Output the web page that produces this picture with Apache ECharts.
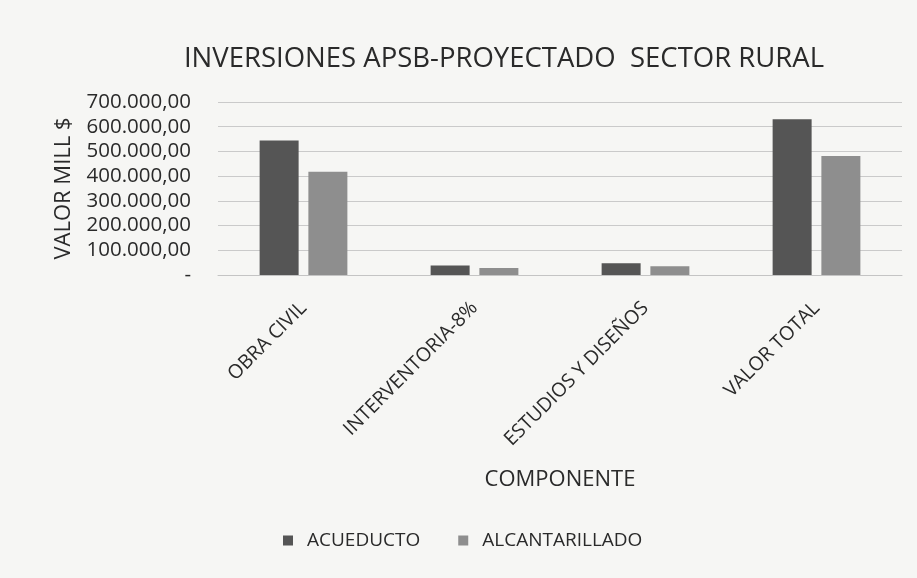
<!DOCTYPE html>
<html>
<head>
<meta charset="utf-8">
<style>
  html, body { margin: 0; padding: 0; background: #f6f6f4; }
  #chart { width: 917px; height: 578px; }
</style>
<script src="https://cdn.jsdelivr.net/npm/echarts@6/dist/echarts.min.js"></script>
</head>
<body>
<div id="chart"></div>
<script>
// componentes (eje x)
var componentes = ["OBRA CIVIL", "INTERVENTORIA-8%", "ESTUDIOS Y DISEÑOS", "VALOR TOTAL"];
// valores en millones de pesos
var acueducto = [544000, 38000, 48000, 630000];
var alcantarillado = [418000, 28000, 35000, 482000];
var series = ["ACUEDUCTO", "ALCANTARILLADO"];

var fontFam = "'Open Sans', 'Noto Sans', sans-serif";

// 700000 -> "700.000,00", 0 -> "-"
function fmtValor(v) {
  if (v === 0) return "-";
  var s = String(Math.round(v)).replace(/\B(?=(\d{3})+(?!\d))/g, ".");
  return s + ",00";
}

var myChart = echarts.init(document.getElementById("chart"));
var option = {
  backgroundColor: "#f6f6f4",
  animation: false,
  title: {
    text: "INVERSIONES APSB-PROYECTADO  SECTOR RURAL",
    left: 499,
    top: 40,
    textAlign: "center",
    textStyle: { fontFamily: fontFam, fontSize: 27.5, fontWeight: "normal", color: "#2a2a2a" }
  },
  legend: {
    data: series,
    bottom: 23,
    left: 278,
    itemWidth: 10,
    itemHeight: 10,
    itemGap: 38,
    icon: "rect",
    textStyle: { fontFamily: fontFam, fontSize: 19, color: "#2a2a2a", padding: [0, 0, 0, 9] }
  },
  grid: { left: 218, right: 15, top: 102, bottom: 303 },
  xAxis: {
    type: "category",
    data: componentes,
    name: "COMPONENTE",
    nameLocation: "middle",
    nameGap: 194,
    nameTextStyle: { fontFamily: fontFam, fontSize: 22, color: "#2a2a2a" },
    axisTick: { show: false },
    axisLine: { lineStyle: { color: "#c4c4c4" } },
    axisLabel: {
      rotate: 45,
      margin: 30,
      fontFamily: fontFam,
      fontSize: 19.5,
      color: "#2a2a2a"
    }
  },
  yAxis: {
    type: "value",
    min: 0,
    max: 700000,
    interval: 100000,
    name: "VALOR MILL $",
    nameLocation: "middle",
    nameGap: 143,
    nameTextStyle: { fontFamily: fontFam, fontSize: 22, color: "#2a2a2a" },
    axisLabel: {
      margin: 27,
      fontFamily: fontFam,
      fontSize: 20.5,
      color: "#2a2a2a",
      formatter: fmtValor
    },
    splitLine: { lineStyle: { color: "#cacaca", width: 1 } }
  },
  series: [
    {
      name: series[0],
      type: "bar",
      data: acueducto,
      barWidth: 39,
      barGap: "25%",
      itemStyle: { color: "#555555" }
    },
    {
      name: series[1],
      type: "bar",
      data: alcantarillado,
      barWidth: 39,
      itemStyle: { color: "#8e8e8e" }
    }
  ]
};
myChart.setOption(option);
</script>
</body>
</html>
